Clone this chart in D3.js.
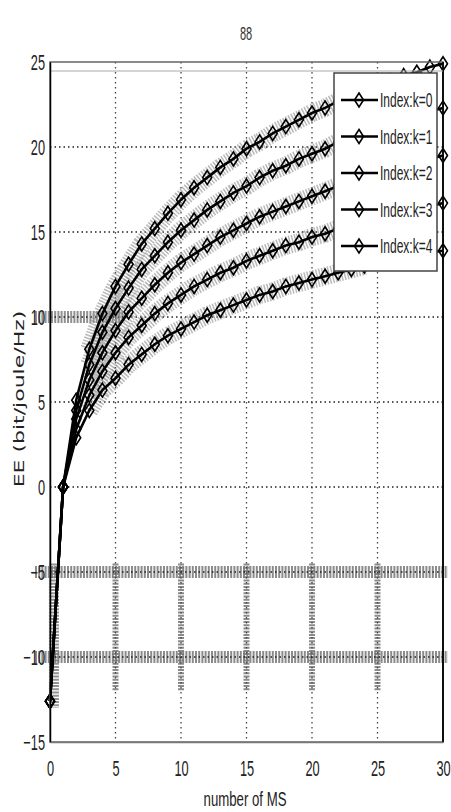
<!DOCTYPE html>
<html><head><meta charset="utf-8">
<script src="https://cdn.jsdelivr.net/npm/d3@7"></script>
<style>html,body{margin:0;padding:0;background:#fff;}svg{display:block;}</style>
</head><body>
<script>
const xValues = [0,1,2,3,4,5,6,7,8,9,10,11,12,13,14,15,16,17,18,19,20,21,22,23,24,25,26,27,28,29,30];
const seriesK0 = [-12.6,0,5.1,8.1,10.2,11.8,13.1,14.3,15.2,16.1,16.9,17.6,18.2,18.8,19.3,19.9,20.3,20.8,21.2,21.6,22.0,22.3,22.7,23.0,23.3,23.6,23.9,24.2,24.4,24.7,24.9];
const seriesK1 = [-12.6,0,4.5,7.2,9.1,10.5,11.7,12.8,13.6,14.4,15.1,15.7,16.3,16.8,17.3,17.7,18.2,18.6,18.9,19.3,19.6,19.9,20.3,20.5,20.8,21.1,21.3,21.6,21.8,22.1,22.3];
const seriesK2 = [-12.6,0,4.0,6.3,7.9,9.2,10.3,11.1,11.9,12.6,13.2,13.7,14.2,14.7,15.1,15.5,15.9,16.2,16.5,16.8,17.1,17.4,17.7,17.9,18.2,18.4,18.6,18.9,19.1,19.3,19.5];
const seriesK3 = [-12.6,0,3.4,5.4,6.8,7.9,8.8,9.5,10.2,10.8,11.3,11.8,12.2,12.6,12.9,13.3,13.6,13.9,14.2,14.4,14.7,14.9,15.2,15.4,15.6,15.8,16.0,16.2,16.3,16.5,16.7];
const seriesK4 = [-12.6,0,2.9,4.5,5.7,6.4,7.2,7.8,8.4,8.9,9.3,9.7,10.1,10.4,10.7,11.0,11.3,11.5,11.8,12.0,12.2,12.4,12.6,12.8,13.0,13.2,13.3,13.5,13.6,13.8,13.9];
const seriesNames = ["Index:k=0","Index:k=1","Index:k=2","Index:k=3","Index:k=4"];
const xTicks = [0,5,10,15,20,25,30];
const yTicks = [-15,-10,-5,0,5,10,15,20,25];
const titleText = "88";
const xLabel = "number of MS";
const yLabel = "EE (bit/joule/Hz)";

const allSeries = [seriesK0,seriesK1,seriesK2,seriesK3,seriesK4];
const W = 451, H = 812;
const svg = d3.select("body").append("svg").attr("width",W).attr("height",H);
const x = d3.scaleLinear().domain([0,30]).range([50,443]);
const y = d3.scaleLinear().domain([-15,25]).range([742,62]);

// noisy gray texture imitation
const tex = svg.append("g");
[-5,-10].forEach(v=>{
  tex.append("line").attr("x1",35).attr("x2",448).attr("y1",y(v)).attr("y2",y(v))
    .attr("stroke","#777").attr("stroke-width",12).attr("stroke-dasharray","2,1.2").attr("opacity",0.85);
});
tex.append("line").attr("x1",35).attr("x2",125).attr("y1",y(10)).attr("y2",y(10))
  .attr("stroke","#777").attr("stroke-width",12).attr("stroke-dasharray","2,1.2").attr("opacity",0.8);
xTicks.slice(1,6).forEach(v=>{
  tex.append("line").attr("x1",x(v)).attr("x2",x(v)).attr("y1",y(-4.5)).attr("y2",y(-12))
    .attr("stroke","#777").attr("stroke-width",6).attr("stroke-dasharray","2,1.2").attr("opacity",0.85);
});
tex.append("line").attr("x1",x(0.3)).attr("x2",x(0.3)).attr("y1",y(-4.5)).attr("y2",y(-13))
  .attr("stroke","#777").attr("stroke-width",10).attr("stroke-dasharray","2,1.2").attr("opacity",0.8);

// grid
const grid = svg.append("g");
xTicks.slice(1,6).forEach(v=>{
  grid.append("line").attr("x1",x(v)).attr("x2",x(v)).attr("y1",y(25)).attr("y2",y(-15))
    .attr("stroke","#444").attr("stroke-width",1.3).attr("stroke-dasharray","1.5,3.5");
});
yTicks.slice(1,8).forEach(v=>{
  grid.append("line").attr("x1",x(0)).attr("x2",x(30)).attr("y1",y(v)).attr("y2",y(v))
    .attr("stroke","#222").attr("stroke-width",1.5).attr("stroke-dasharray","1.5,3");
});

// halo behind curves
const line = d3.line().x((d,i)=>x(xValues[i])).y(d=>y(d));
const haloLine = d3.line().defined((d,i)=>xValues[i]>=3 && xValues[i]<=24).x((d,i)=>x(xValues[i])).y(d=>y(d));
allSeries.forEach(s=>{
  svg.append("path").attr("d",haloLine(s)).attr("fill","none")
    .attr("stroke","#8a8a8a").attr("stroke-width",18).attr("stroke-dasharray","1.5,1.5").attr("opacity",0.6);
});

// curves
allSeries.forEach(s=>{
  svg.append("path").attr("d",line(s)).attr("fill","none").attr("stroke","#000").attr("stroke-width",2.6);
  svg.append("g").selectAll("path").data(s).join("path")
    .attr("transform",(d,i)=>`translate(${x(xValues[i])},${y(d)})`)
    .attr("d","M0,-7L4.5,0L0,7L-4.5,0Z").attr("fill","none").attr("stroke","#000").attr("stroke-width",1.6);
});

// axes box
const box = svg.append("g");
box.append("rect").attr("x",x(0)).attr("y",y(25)).attr("width",x(30)-x(0)).attr("height",y(-15)-y(25))
  .attr("fill","none").attr("stroke","#666").attr("stroke-width",1.5);
box.append("line").attr("x1",x(30)).attr("x2",x(30)).attr("y1",y(25)).attr("y2",y(-15)).attr("stroke","#000").attr("stroke-width",1.8);
box.append("line").attr("x1",x(0)).attr("x2",x(30)).attr("y1",y(25)+9).attr("y2",y(25)+9).attr("stroke","#aaa").attr("stroke-width",1);

const tickFont = "Liberation Sans, Arial, sans-serif";
// y tick labels
const yAxis = svg.append("g").attr("transform",`translate(${x(0)},0)`)
  .call(d3.axisLeft(y).tickValues(yTicks).tickSize(0).tickPadding(0).tickFormat(d3.format("d")));
yAxis.select(".domain").attr("stroke","#000").attr("stroke-width",1.5);
yAxis.selectAll(".tick text").attr("x",0).attr("dy","0.36em")
  .attr("transform","translate(-5,0) scale(0.58,1)")
  .style("font-family",tickFont).style("font-size","22px").attr("fill","#222");
// x tick labels
const xAxis = svg.append("g").attr("transform",`translate(0,${y(-15)})`)
  .call(d3.axisBottom(x).tickValues(xTicks).tickSize(0).tickPadding(0).tickFormat(d3.format("d")));
xAxis.select(".domain").attr("stroke","#777").attr("stroke-width",1.5);
xAxis.selectAll(".tick text").attr("y",0).attr("dy",0)
  .attr("transform","translate(0,34) scale(0.58,1)")
  .style("font-family",tickFont).style("font-size","22px").attr("fill","#222");

// title and labels
svg.append("text").attr("transform","translate(246,40) scale(0.58,1)").attr("text-anchor","middle")
  .style("font-family",tickFont).style("font-size","19px").attr("fill","#333").text(titleText);
svg.append("text").attr("transform","translate(245,806) scale(0.66,1)").attr("text-anchor","middle")
  .style("font-family",tickFont).style("font-size","20px").attr("fill","#222").text(xLabel);
svg.append("text").attr("transform","translate(24,399) rotate(-90) scale(1,0.6)").attr("text-anchor","middle")
  .style("font-family","DejaVu Sans, sans-serif").style("font-size","22px").attr("fill","#222").text(yLabel);

// legend
const lg = svg.append("g");
lg.append("rect").attr("x",334).attr("y",73).attr("width",103).attr("height",198)
  .attr("fill","#fff").attr("stroke","#444").attr("stroke-width",1.5);
seriesNames.forEach((name,i)=>{
  const ly = 100 + i*36.5;
  lg.append("line").attr("x1",341).attr("x2",378).attr("y1",ly).attr("y2",ly).attr("stroke","#000").attr("stroke-width",2.6);
  lg.append("path").attr("transform",`translate(359,${ly})`).attr("d","M0,-7L4.5,0L0,7L-4.5,0Z")
    .attr("fill","none").attr("stroke","#000").attr("stroke-width",1.6);
  lg.append("text").attr("transform",`translate(380,${ly+7}) scale(0.6,1)`)
    .style("font-family",tickFont).style("font-size","20px").attr("fill","#222").text(name);
});
</script>
</body></html>
